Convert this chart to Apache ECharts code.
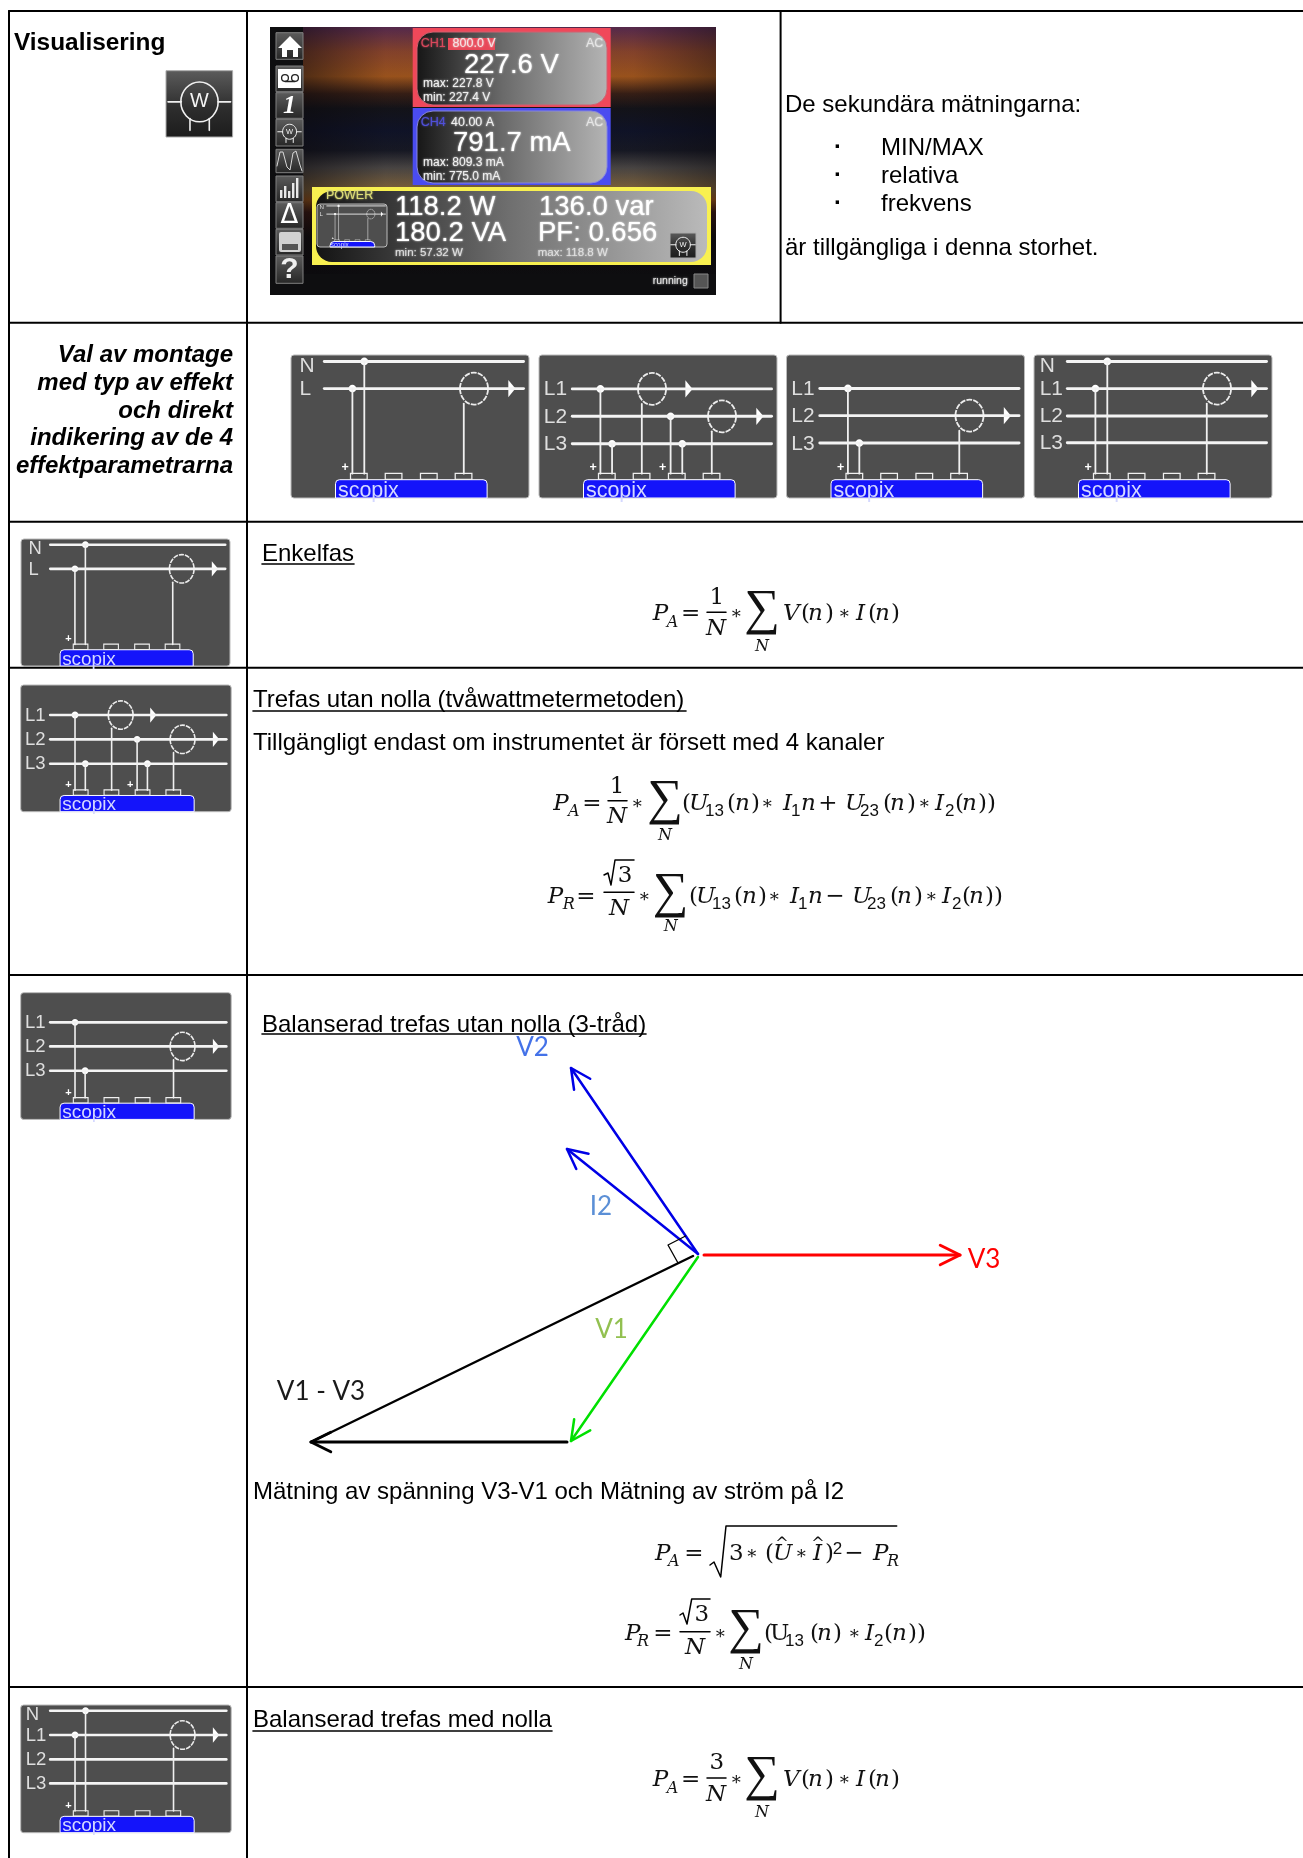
<!DOCTYPE html>
<html>
<head>
<meta charset="utf-8">
<title>Visualisering</title>
<script src="https://cdn.jsdelivr.net/npm/echarts@6/dist/echarts.min.js"></script>
<style>
html,body{margin:0;padding:0;background:#fff}
#chart{width:1303px;height:1858px}
</style>
</head>
<body>
<div id="chart"></div>
<script>
const pageW = 1303, pageH = 1858;
const sans = '"Liberation Sans"', mathFont = '"DejaVu Serif"';

// table rules
const rowRules = [11, 322.7, 521.7, 667.7, 975, 1687];
const colRules = [9, 247];
const col3Rule = 780.6;

// plain text of the document
const bodyTexts = ['De sekundära mätningarna:', 'MIN/MAX', 'relativa', 'frekvens', 'är tillgängliga i denna storhet.',
  'Tillgängligt endast om instrumentet är försett med 4 kanaler', 'Mätning av spänning V3-V1 och Mätning av ström på I2'];
const bodyPos = [[785, 105.5], [881, 148], [881, 176], [881, 204], [785, 248], [253, 743.5], [253, 1492]];
const bulletYs = [147, 175, 203];
const headings = ['Enkelfas', 'Trefas utan nolla (tvåwattmetermetoden)', 'Balanserad trefas utan nolla (3-tråd)', 'Balanserad trefas med nolla'];
const headingPos = [[262, 554], [253, 700], [262, 1025], [253, 1720]];
const headingEnd = [354, 686, 646, 552];
const headingRuleY = [564, 711, 1034, 1731];
const montageLines = ['Val av montage', 'med typ av effekt', 'och direkt', 'indikering av de 4', 'effektparametrarna'];
const montageYs = [355, 383, 411, 438.5, 466];

// phasor diagram
const phasorNames = ['V2', 'I2', 'V3', 'V1', 'V1 - V3', 'V1 - V3 b'];
const phasorFrom = [[698, 1254], [698, 1254], [704, 1255], [698, 1257], [693, 1256], [567, 1442]];
const phasorTo = [[571, 1068], [567, 1149], [960, 1255], [571, 1441], [311, 1442], [311, 1442]];
const phasorColors = ['#0000e6', '#0000e6', '#ff0000', '#00e000', '#000000', '#000000'];
const phasorWidths = [2.5, 2.5, 3, 2.5, 2.5, 3];
const phasorLabels = ['V2', 'I2', 'V1', 'V3', 'V1 - V3'];
const phasorLabelPos = [[532.6, 1048], [601, 1207], [611.6, 1330], [984, 1260], [321, 1392]];
const phasorLabelColors = ['#4472e8', '#5b8fd6', '#92c050', '#ff0000', '#1a1a1a'];
const rightAngle = [[678, 1263], [668, 1245], [685.6, 1236]];

// wiring icons: rail names, rail heights, taps [x, rail], clamps [x, rail, arrow x]
const wiring = {
  single: {rails: ['N', 'L'], ys: [.045, .235], labelX: .036, taps: [[.258, 1], [.308, 0]], clamps: [[.769, 1, .913]], plus: [.227]},
  twoWatt: {rails: ['L1', 'L2', 'L3'], ys: [.237, .429, .621], labelX: .02, taps: [[.258, 0], [.307, 2], [.553, 1], [.602, 2]],
    clamps: [[.475, 0, .615], [.769, 1, .913]], plus: [.227, .52]},
  balanced3: {rails: ['L1', 'L2', 'L3'], ys: [.234, .424, .616], labelX: .02, taps: [[.258, 0], [.306, 2]], clamps: [[.769, 1, .913]], plus: [.227]},
  balanced4: {rails: ['N', 'L1', 'L2', 'L3'], ys: [.045, .235, .426, .614], labelX: .024, taps: [[.258, 1], [.308, 0]], clamps: [[.769, 1, .913]], plus: [.227]}
};
const iconNames = ['single', 'twoWatt', 'balanced3', 'balanced4', 'single', 'twoWatt', 'balanced3', 'balanced4'];
const iconBoxes = [[291, 355, 238, 143], [539, 355, 238, 143], [786.5, 355, 238, 143], [1034, 355, 238, 143],
  [21, 539, 209, 127], [20.7, 685, 210.5, 126.7], [20.7, 992.7, 210.5, 126.7], [20.7, 1705, 210.5, 127.7]];

// screen capture values
const screenTexts = ['CH1', '800.0 V', 'AC', '227.6 V', 'max: 227.8 V', 'min: 227.4 V', 'CH4', '40.00 A', 'AC', '791.7 mA', 'max: 809.3 mA', 'min: 775.0 mA',
  'POWER', '118.2 W', '180.2 VA', '136.0 var', 'PF: 0.656', 'min: 57.32 W', 'max: 118.8 W', 'running'];
const screenTextPos = [[420.7, 44], [452.6, 44], [586, 44], [464, 65], [423, 84], [423, 98], [420.7, 123], [451, 123], [586, 123], [453, 143], [423, 163], [423, 177],
  [326, 196], [395, 207], [395, 233], [539, 207], [538, 233], [395, 253], [537.7, 253], [652.7, 280.7]];
const screenTextSizes = [12.5, 12.5, 12.5, 27.5, 12, 12, 12.5, 12.5, 12.5, 27.5, 12, 12, 12.5, 27.5, 27.5, 27.5, 27.5, 11.5, 11.5, 10.5];
const screenTextColors = ['#d8485c', '#f4e4e4', '#e6e6e6', '#ffffff', '#f0f0f0', '#f0f0f0', '#5050d8', '#f0f0f0', '#e6e6e6', '#ffffff', '#f0f0f0', '#f0f0f0',
  '#dcdc78', '#ffffff', '#ffffff', '#ffffff', '#ffffff', '#e0e0e0', '#e0e0e0', '#e8e8e8'];
const sideButtons = [[32.7, 59.3], [66, 91.7], [92.7, 118.3], [119.3, 146], [149.3, 172.7], [176, 201.7], [202.7, 228.3], [229.3, 255], [256, 283.3]];

// formulas: [text, x, y, kind, align]
const formulaTail = (x, y, op) => [
  ['(', x, y, 'up'], ['U', x + 7, y, 'it'], ['13', x + 23, y + 7, 'subn'], ['(', x + 45, y, 'up'], ['n', x + 53, y, 'it'], [')', x + 69, y, 'up'],
  ['∗', x + 85, y, 'star', 'center'], ['I', x + 101, y, 'it'], ['1', x + 109, y + 7, 'subn'], ['n', x + 119, y, 'it'], [op, x + 146, y, 'up', 'center'],
  ['U', x + 163, y, 'it'], ['23', x + 178, y + 7, 'subn'], ['(', x + 201, y, 'up'], ['n', x + 208, y, 'it'], [')', x + 225, y, 'up'],
  ['∗', x + 242, y, 'star', 'center'], ['I', x + 253, y, 'it'], ['2', x + 263, y + 7, 'subn'], ['(', x + 273, y, 'up'], ['n', x + 280, y, 'it'], ['))', x + 296, y, 'up']
];
const vTail = (x, y) => [['V', x, y, 'it'], ['(', x + 18, y, 'up'], ['n', x + 25, y, 'it'], [')', x + 42, y, 'up'], ['∗', x + 61, y, 'star', 'center'],
  ['I', x + 73, y, 'it'], ['(', x + 85, y, 'up'], ['n', x + 92, y, 'it'], [')', x + 108, y, 'up']];
const formulaTexts = [
  ['P', 652.7, 613, 'it'], ['A', 666.7, 621, 'sub'], ['=', 690.7, 613, 'up', 'center'], ['1', 716.7, 596.7, 'up', 'center'], ['N', 716, 628, 'it', 'center'], ['∗', 736, 613, 'star', 'center'],
  ['∑', 762, 611, 'sum', 'center'], ['N', 762, 645, 'sub', 'center'], ...vTail(783, 613),
  ['P', 553.3, 803, 'it'], ['A', 568, 810.7, 'sub'], ['=', 592, 803, 'up', 'center'], ['1', 617, 786, 'up', 'center'], ['N', 617, 816, 'it', 'center'], ['∗', 637, 803, 'star', 'center'],
  ['∑', 665, 801, 'sum', 'center'], ['N', 665, 834, 'sub', 'center'], ...formulaTail(682, 803, '+'),
  ['P', 547.7, 896, 'it'], ['R', 562.7, 903, 'sub'], ['=', 586, 896, 'up', 'center'], ['3', 625, 875, 'up', 'center'], ['N', 619, 908, 'it', 'center'], ['∗', 644, 896, 'star', 'center'],
  ['∑', 670.6, 894, 'sum', 'center'], ['N', 670.7, 925, 'sub', 'center'], ...formulaTail(689, 896, '−'),
  ['P', 655, 1553, 'it'], ['A', 668, 1560, 'sub'], ['=', 694, 1553, 'up', 'center'], ['3', 729, 1553, 'up'], ['∗', 751.7, 1553, 'star', 'center'], ['(', 765, 1553, 'up'], ['U', 773, 1553, 'it'], ['^', 782, 1543, 'sub', 'center'],
  ['∗', 801, 1553, 'star', 'center'], ['I', 813, 1553, 'it'], ['^', 818, 1543, 'sub', 'center'], [')', 825, 1553, 'up'], ['2', 832.7, 1548, 'subn'], ['−', 854, 1553, 'up', 'center'], ['P', 873, 1553, 'it'], ['R', 887, 1560, 'sub'],
  ['P', 625, 1632.7, 'it'], ['R', 637, 1640, 'sub'], ['=', 663, 1632.7, 'up', 'center'], ['3', 701.7, 1614, 'up', 'center'], ['N', 695, 1646.7, 'it', 'center'], ['∗', 720, 1632.7, 'star', 'center'],
  ['∑', 746, 1630, 'sum', 'center'], ['N', 746, 1663, 'sub', 'center'], ['(', 764, 1632.7, 'up'], ['U', 770, 1632.7, 'up'], ['13', 785, 1640, 'subn'], ['(', 810, 1632.7, 'up'], ['n', 817, 1632.7, 'it'], [')', 833, 1632.7, 'up'],
  ['∗', 854, 1632.7, 'star', 'center'], ['I', 865, 1632.7, 'it'], ['2', 874, 1640, 'subn'], ['(', 884, 1632.7, 'up'], ['n', 892, 1632.7, 'it'], ['))', 908, 1632.7, 'up'],
  ['P', 652.7, 1779, 'it'], ['A', 666.7, 1787, 'sub'], ['=', 690.7, 1779, 'up', 'center'], ['3', 716.7, 1761.7, 'up', 'center'], ['N', 716, 1794, 'it', 'center'], ['∗', 736, 1779, 'star', 'center'],
  ['∑', 762, 1777, 'sum', 'center'], ['N', 762, 1811, 'sub', 'center'], ...vTail(783, 1779)
];
const formulaKinds = {
  it: {fontFamily: mathFont, fontStyle: 'italic', fontSize: 23},
  up: {fontFamily: mathFont, fontSize: 23},
  sub: {fontFamily: mathFont, fontStyle: 'italic', fontSize: 16},
  subn: {fontFamily: sans, fontSize: 17},
  star: {fontFamily: mathFont, fontSize: 18},
  sum: {fontFamily: '"Liberation Serif"', fontSize: 50}
};
// fraction bars and radicals of the formulas
const formulaStrokes = [
  [[707, 612.3], [726, 612.3]], [[608, 800.7], [627, 800.7]], [[604, 892.3], [634, 892.3]], [[680, 1631.7], [710, 1631.7]], [[707, 1778], [726, 1778]],
  [[604, 875], [608, 873], [611, 885], [615, 860], [634, 860]],
  [[710, 1565], [714, 1562], [720.7, 1577], [726, 1526], [896.7, 1526]],
  [[680, 1615], [683, 1613], [687, 1624], [691.7, 1599], [710, 1599]]
];

// collected marks, all in page units and drawn through the axes below
let shapes = [], paths = [], texts = [];

const rect = (x, y, w, h, style, r) => shapes.push({kind: 'rect', x, y, w, h, style, r: r || 0});
const ellipse = (cx, cy, rx, ry, style) => shapes.push({kind: 'ellipse', cx, cy, rx, ry, style});
const polygon = (pts, style) => shapes.push({kind: 'polygon', pts, style});
const path = (coords, color, width) => paths.push({coords, lineStyle: {color, width, opacity: 1, cap: 'round', join: 'round'}});
const text = (str, x, y, style) => texts.push({str, x, y, style});

function grad(stops, horizontal) {
  return {type: 'linear', x: 0, y: 0, x2: horizontal ? 1 : 0, y2: horizontal ? 0 : 1,
    colorStops: stops.map(s => ({offset: s[0], color: s[1]}))};
}

function drawIcon(name, box) {
  const t = wiring[name];
  const [bx, by, bw, bh] = box;
  const X = f => bx + f * bw, Y = f => by + f * bh;
  const k = bw / 210;
  rect(bx, by, bw, bh, {fill: '#4e4e4e', stroke: '#bbbbbb', lineWidth: 1}, 3);
  rect(X(.187), Y(.872), .637 * bw, .128 * bh, {fill: '#1414fa', stroke: '#ffffff', lineWidth: 1}, [4, 4, 0, 0]);
  t.rails.forEach((n, i) => {
    const ly = t.ys[i] + (n === 'N' ? .03 : .005);
    text(n, X(t.labelX), Y(ly), {fontFamily: sans, fontSize: 18.5 * k, fill: '#dedede'});
    path([[X(.14), Y(t.ys[i])], [X(.977), Y(t.ys[i])]], '#f4f4f4', 2.6 * k);
  });
  t.taps.forEach(p => {
    const y = t.ys[p[1]];
    path([[X(p[0]), Y(y)], [X(p[0]), Y(.83)]], '#f0f0f0', 1.6 * k);
    ellipse(X(p[0]), Y(y), 3.4 * k, 3.4 * k, {fill: '#ffffff'});
  });
  t.clamps.forEach(c => {
    const y = t.ys[c[1]];
    ellipse(X(c[0]), Y(y), .059 * bw, .112 * bh, {fill: 'none', stroke: '#ececec', lineWidth: 1.6 * k, lineDash: [5 * k, 1 * k]});
    path([[X(c[0] - .043), Y(y + .105)], [X(c[0] - .043), Y(.83)]], '#f0f0f0', 1.6 * k);
    polygon([[X(c[2]), Y(y - .06)], [X(c[2] + .03), Y(y)], [X(c[2]), Y(y + .06)]], {fill: '#ffffff'});
  });
  t.plus.forEach(p => text('+', X(p), Y(.79), {fontFamily: sans, fontWeight: 'bold', fontSize: 11 * k, fill: '#ffffff', align: 'center'}));
  [.25, .396, .544, .69].forEach(p => rect(X(p), Y(.828), .07 * bw, .042 * bh, {fill: 'none', stroke: '#f0f0f0', lineWidth: 1.1 * k}));
  text('scopix', X(.197), Y(.948), {fontFamily: sans, fontSize: 19 * k, fill: '#d4d8ff'});
}

function drawWatt(x, y, w, h, bg, thin) {
  if (bg) rect(x, y, w, h, {fill: grad([[0, '#5c5c5c'], [.55, '#2e2e2e'], [1, '#1c1c1c']]), stroke: '#aaaaaa', lineWidth: 1});
  const X = f => x + f * w, Y = f => y + f * h;
  ellipse(X(.503), Y(.47), .28 * w, .3 * h, {fill: 'none', stroke: '#f0f0f0', lineWidth: thin});
  path([[X(.03), Y(.47)], [X(.23), Y(.47)]], '#f0f0f0', thin);
  path([[X(.78), Y(.47)], [X(.97), Y(.47)]], '#f0f0f0', thin);
  path([[X(.36), Y(.72)], [X(.36), Y(.9)]], '#f0f0f0', thin);
  path([[X(.65), Y(.72)], [X(.65), Y(.9)]], '#f0f0f0', thin);
  text('W', X(.503), Y(.47), {fontFamily: sans, fontSize: .3 * h, fill: '#f4f4f4', align: 'center'});
}

function drawScreen() {
  rect(270, 27, 446, 268, {fill: '#0e0e10'});
  rect(303, 27, 413, 247, {fill: grad([[0, '#5c2c52'], [.1, '#90482e'], [.2, '#a85a1e'], [.27, '#3a2016'], [.33, '#14141a'], [.42, '#10142a'], [.5, '#181a26'],
    [.57, '#4e4a48'], [.66, '#8a6a3c'], [.7, '#a55c1a'], [.75, '#401a10'], [.85, '#100c0c'], [1, '#0e0e10']])});
  // darker patches in the wallpaper
  rect(303, 27, 413, 247, {fill: grad([[0, 'rgba(10,8,12,.55)'], [.2, 'rgba(10,8,12,.1)'], [.8, 'rgba(10,8,12,.1)'], [1, 'rgba(10,8,12,.45)']], true)});
  const dark = grad([[0, '#161616'], [.45, '#6a6a6a'], [1, '#b4b4b4']], true);
  rect(412.7, 28, 198, 79, {fill: '#f0485a'});
  rect(417, 32, 190, 73, {fill: dark, stroke: '#d06070', lineWidth: 1}, 16);
  rect(448, 38, 47, 12, {fill: '#e84858'});
  rect(412.7, 108, 198, 77, {fill: '#4a4cf0'});
  rect(417, 111, 190, 72, {fill: dark, stroke: '#8888dd', lineWidth: 1}, 16);
  rect(312, 187, 399, 78, {fill: '#f8f050'});
  rect(316, 191, 391, 71, {fill: grad([[0, '#141414'], [.5, '#707070'], [1, '#bababa']], true)}, 16);
  sideButtons.forEach(b => rect(276, b[0], 27, b[1] - b[0], {fill: grad([[0, '#5c5c5c'], [1, '#262626']]), stroke: '#808080', lineWidth: 1}));

  // button glyphs
  polygon([[278, 48], [290, 36], [302, 48], [298, 48], [298, 57], [293, 57], [293, 50], [287, 50], [287, 57], [282, 57], [282, 48]], {fill: '#ffffff'});
  rect(278, 69, 23, 19, {fill: '#ffffff'});
  ellipse(285, 78, 3.4, 3.4, {fill: 'none', stroke: '#222222', lineWidth: 1.3});
  ellipse(295, 78, 3.4, 3.4, {fill: 'none', stroke: '#222222', lineWidth: 1.3});
  path([[285, 81.5], [295, 81.5]], '#222222', 1.3);
  text('1', 289.5, 106, {fontFamily: '"Liberation Serif"', fontStyle: 'italic', fontWeight: 'bold', fontSize: 26, fill: '#ffffff', align: 'center'});
  drawWatt(277, 120, 25, 25, false, 1);
  path([[277, 166], [280, 152], [283, 152], [287, 167], [290, 170], [293, 153], [296, 151], [300, 165], [302, 171]], '#d8d8d8', 1);
  [[280, 8], [284, 12], [288, 7], [292, 15], [296, 20]].forEach(b => rect(b[0], 198 - b[1], 2.4, b[1], {fill: '#e8e8e8'}));
  text('Δ', 289.5, 216, {fontFamily: '"DejaVu Sans"', fontSize: 26, fill: '#ffffff', align: 'center'});
  rect(279, 232, 22, 20, {fill: '#d2d2d2'}, 2);
  rect(282, 244, 16, 6, {fill: '#555555'});
  text('?', 289.5, 270, {fontFamily: sans, fontWeight: 'bold', fontSize: 30, fill: '#f0f0f0', align: 'center'});
  drawIcon('single', [317, 204, 70, 43]);
  drawWatt(670, 233, 26, 25, true, 1);
  rect(694, 274, 14, 14, {fill: '#555555', stroke: '#888888', lineWidth: 1});
  screenTexts.forEach((s, i) => text(s, screenTextPos[i][0], screenTextPos[i][1],
    {fontFamily: sans, fontSize: screenTextSizes[i], fill: screenTextColors[i], textShadowBlur: 2, textShadowColor: screenTextColors[i]}));
}

function arrowHead(from, to, color, width) {
  const a = Math.atan2(from[1] - to[1], from[0] - to[0]);
  const len = 22, spread = 0.46;
  const p1 = [to[0] + len * Math.cos(a + spread), to[1] + len * Math.sin(a + spread)];
  const p2 = [to[0] + len * Math.cos(a - spread), to[1] + len * Math.sin(a - spread)];
  path([p1, to, p2], color, width);
}

function buildMarks() {
  // table rules
  rowRules.forEach(y => path([[colRules[0], y], [pageW, y]], '#000000', 2));
  colRules.forEach(x => path([[x, rowRules[0]], [x, pageH]], '#000000', 2));
  path([[col3Rule, rowRules[0]], [col3Rule, rowRules[1]]], '#000000', 2);

  // text
  text('Visualisering', 14, 43, {fontFamily: sans, fontWeight: 'bold', fontSize: 24.4, fill: '#000000'});
  montageLines.forEach((s, i) => text(s, 233, montageYs[i], {fontFamily: sans, fontWeight: 'bold', fontStyle: 'italic', fontSize: 24, fill: '#000000', align: 'right'}));
  bodyTexts.forEach((s, i) => text(s, bodyPos[i][0], bodyPos[i][1], {fontFamily: sans, fontSize: 24, fill: '#000000'}));
  bulletYs.forEach(y => text('·', 838, y, {fontFamily: sans, fontWeight: 'bold', fontSize: 24, fill: '#000000', align: 'center'}));
  headings.forEach((s, i) => {
    text(s, headingPos[i][0], headingPos[i][1], {fontFamily: sans, fontSize: 24, fill: '#000000'});
    path([[headingPos[i][0], headingRuleY[i]], [headingEnd[i], headingRuleY[i]]], '#000000', 1.6);
  });

  // icons and screen
  drawWatt(166, 70.7, 66.6, 66.3, true, 1.6);
  drawScreen();
  iconNames.forEach((n, i) => drawIcon(n, iconBoxes[i]));

  // phasors
  phasorNames.forEach((n, i) => {
    path([phasorFrom[i], phasorTo[i]], phasorColors[i], phasorWidths[i]);
    if (i !== 4) arrowHead(phasorFrom[i], phasorTo[i], phasorColors[i], phasorWidths[i]);
  });
  path(rightAngle, '#000000', 1.3);
  phasorLabels.forEach((s, i) => text(s, phasorLabelPos[i][0], phasorLabelPos[i][1], {fontFamily: 'Lato', fontSize: 26, fill: phasorLabelColors[i], align: 'center'}));

  // formulas
  formulaStrokes.forEach(p => path(p, '#000000', 1.5));
  formulaTexts.forEach(f => text(f[0], f[1], f[2] + (f[3] === 'sum' ? 0 : 1.5), Object.assign({fill: '#111111', align: f[4] || 'left'}, formulaKinds[f[3]])));
}

buildMarks();

const chart = echarts.init(document.getElementById('chart'), null, {renderer: 'canvas'});

function renderShape(params, api) {
  const s = shapes[api.value(0)];
  if (s.kind === 'rect') {
    const p = api.coord([s.x, s.y]), q = api.coord([s.x + s.w, s.y + s.h]);
    return {type: 'rect', shape: {x: p[0], y: p[1], width: q[0] - p[0], height: q[1] - p[1], r: s.r}, style: s.style};
  }
  if (s.kind === 'ellipse') {
    const c = api.coord([s.cx, s.cy]), e = api.coord([s.cx + s.rx, s.cy + s.ry]);
    return {type: 'ellipse', shape: {cx: c[0], cy: c[1], rx: e[0] - c[0], ry: e[1] - c[1]}, style: s.style};
  }
  return {type: 'polygon', shape: {points: s.pts.map(pt => api.coord(pt))}, style: s.style};
}

function renderText(params, api) {
  const t = texts[api.value(0)];
  const p = api.coord([t.x, t.y]);
  return {type: 'text', style: Object.assign({text: t.str, x: p[0], y: p[1], verticalAlign: 'middle'}, t.style)};
}

chart.setOption({
  animation: false,
  backgroundColor: '#ffffff',
  grid: {left: 0, right: 0, top: 0, bottom: 0},
  xAxis: {type: 'value', min: 0, max: pageW, show: false},
  yAxis: {type: 'value', min: 0, max: pageH, inverse: true, show: false},
  series: [
    {type: 'custom', name: 'shapes', z: 1, silent: true, clip: false, renderItem: renderShape, encode: {x: 1, y: 2},
      data: shapes.map((s, i) => [i, 0, 0])},
    {type: 'lines', name: 'paths', z: 2, silent: true, coordinateSystem: 'cartesian2d', polyline: true, data: paths},
    {type: 'custom', name: 'texts', z: 3, silent: true, clip: false, renderItem: renderText, encode: {x: 1, y: 2},
      data: texts.map((t, i) => [i, t.x, t.y])}
  ]
});
</script>
</body>
</html>
